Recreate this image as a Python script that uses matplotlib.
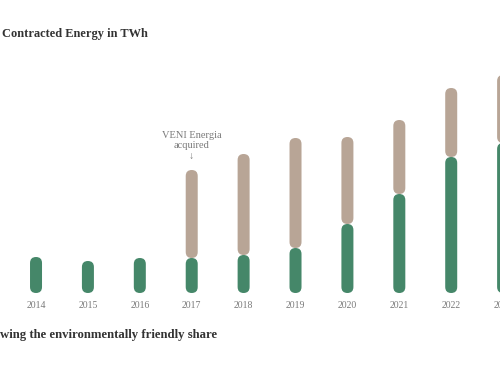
import numpy as np
import matplotlib.pyplot as plt
from matplotlib.patches import FancyBboxPatch

# ---------- datos (TWh) ----------
years = ["2014", "2015", "2016", "2017", "2018", "2019", "2020", "2021", "2022", "2023"]
green = [3.6, 3.2, 3.5, 3.5, 3.8, 4.5, 6.9, 9.9, 13.6, 15.0]
other = [0.0, 0.0, 0.0, 8.8, 10.1, 11.0, 8.7, 7.4, 6.9, 6.8]

title = "Contracted Energy in TWh"
subtitle = "wing the environmentally friendly share"
note = "VENI Energia\nacquired\n\u2193"
note_year = "2017"

GREEN = "#458769"
BEIGE = "#b8a596"
GREY = "#7a7a7a"
DARK = "#333333"

plt.rcParams["font.family"] = ["Liberation Serif", "DejaVu Serif"]

fig = plt.figure(figsize=(5, 3.75), dpi=100)
ax = fig.add_axes([0, 0, 1, 1])
xlim = (-0.694, 8.94)
ylim = (-8.2, 29.3)
ax.set_xlim(*xlim)
ax.set_ylim(*ylim)
ax.axis("off")

# escalas en unidades de datos por pixel
x_px = (xlim[1] - xlim[0]) / (fig.get_figwidth() * fig.dpi)
y_px = (ylim[1] - ylim[0]) / (fig.get_figheight() * fig.dpi)
aspect = y_px / x_px
bar_px = 12
w = bar_px * x_px


def capsule(xc, y0, y1, color):
    p = FancyBboxPatch((xc - w / 2, y0), w, y1 - y0,
                       boxstyle="round,pad=0,rounding_size=%f" % (w / 2),
                       mutation_aspect=aspect, fc=color, ec="none",
                       clip_on=False)
    ax.add_patch(p)


x = np.arange(len(years))
g = np.array(green)
o = np.array(other)

for i in x:
    capsule(i, 0, g[i], GREEN)
    if o[i] > 0:
        capsule(i, g[i], g[i] + o[i], BEIGE)
    ax.text(i, -1.2, years[i], ha="center", va="center", fontsize=7, color=GREY)

k = years.index(note_year)
ax.text(k, g[k] + o[k] + 2.4, note, ha="center", va="center", fontsize=7.5,
        color=GREY, linespacing=1.25)

fig.text(2 / 500, 1 - 34 / 375, title, ha="left", va="center", fontsize=8.9,
         fontweight="bold", color=DARK)
fig.text(0 / 500, 1 - 335 / 375, subtitle, ha="left", va="center", fontsize=9.2,
         fontweight="bold", color=DARK)

fig.savefig("out.png", dpi=100)
